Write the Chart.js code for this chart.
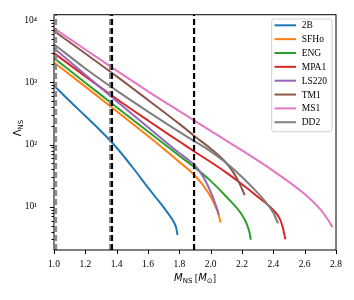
<!DOCTYPE html>
<html>
<head>
<meta charset="utf-8">
<script src="https://cdn.jsdelivr.net/npm/chart.js"></script>
<style>
  html, body { margin: 0; padding: 0; background: #fff; }
  #wrap { width: 354px; height: 300px; }
</style>
</head>
<body>
<div id="wrap"><canvas id="chart" width="354" height="300"></canvas></div>
<script>
// EOS 이름과 색
const eosNames = ['2B', 'SFHo', 'ENG', 'MPA1', 'LS220', 'TM1', 'MS1', 'DD2'];
const eosColors = ['#1f77b4', '#ff7f0e', '#2ca02c', '#d62728', '#9467bd', '#8c564b', '#e377c2', '#7f7f7f'];

// M_NS [M_sun] / Lambda_NS
const mass2B = [1.0, 1.1, 1.2, 1.3, 1.4, 1.5, 1.6, 1.65, 1.7, 1.74, 1.77, 1.782, 1.788];
const lambda2B = [885, 501, 288, 164, 89, 43.6, 20.4, 14.1, 9.8, 7.1, 5.37, 4.37, 3.52];

const massSFHo = [1.0, 1.2, 1.4, 1.6, 1.8, 1.9, 1.95, 2.0, 2.03, 2.05, 2.063];
const lambdaSFHo = [2090, 853, 344, 137, 52.5, 31.6, 22.4, 14.5, 10.2, 7.6, 5.6];

const massENG = [1.0, 1.2, 1.4, 1.6, 1.8, 1.9, 2.0, 2.1, 2.2, 2.23, 2.25, 2.256];
const lambdaENG = [2450, 988, 398, 162, 66, 42.6, 26.1, 14.5, 7.4, 5.3, 3.65, 2.95];

const massMPA1 = [1.0, 1.2, 1.4, 1.6, 1.8, 1.9, 2.0, 2.1, 2.2, 2.3, 2.4, 2.44, 2.46, 2.477];
const lambdaMPA1 = [2950, 1250, 541, 244, 112, 76, 52.5, 35.4, 23, 14.5, 8.85, 6.5, 4.7, 3.0];

const massLS220 = [1.0, 1.2, 1.4, 1.6, 1.8, 1.85, 1.9, 1.95, 1.98, 2.01, 2.03, 2.045, 2.052];
const lambdaLS220 = [3540, 1330, 497, 190, 73, 58.9, 46.2, 30.9, 22.4, 15.1, 11.1, 8.6, 7.4];

const massTM1 = [1.0, 1.2, 1.4, 1.6, 1.8, 1.9, 2.0, 2.1, 2.15, 2.19, 2.217];
const lambdaTM1 = [6710, 2910, 1250, 522, 215, 135, 86, 50.6, 34.1, 22.2, 15.4];

const massMS1 = [1.0, 1.2, 1.4, 1.6, 1.8, 2.0, 2.2, 2.4, 2.6, 2.7, 2.75, 2.778];
const lambdaMS1 = [7400, 3370, 1540, 718, 344, 166, 80.6, 37.7, 16, 9.06, 6.12, 4.67];

const massDD2 = [1.0, 1.2, 1.4, 1.6, 1.8, 1.9, 2.0, 2.1, 2.2, 2.3, 2.35, 2.4, 2.43];
const lambdaDD2 = [4110, 1675, 736, 339, 160, 112, 77.7, 50.6, 30.2, 16.75, 12, 8.0, 5.4];

// 세로 점선 위치
const vlineGray = [1.013, 1.358];
const vlineBlack = [1.37, 1.894];

// 축 범위 / 눈금
const xMin = 1.0, xMax = 2.8, xStep = 0.2;
const yMin = 2.02, yMax = 12240;
const supDigits = ['\u2070', '\u00b9', '\u00b2', '\u00b3', '\u2074'];

const massSets = [mass2B, massSFHo, massENG, massMPA1, massLS220, massTM1, massMS1, massDD2];
const lambdaSets = [lambda2B, lambdaSFHo, lambdaENG, lambdaMPA1, lambdaLS220, lambdaTM1, lambdaMS1, lambdaDD2];

const serif = '"Liberation Serif", "Times New Roman", serif';
const sans = '"DejaVu Sans", sans-serif';

const datasets = eosNames.map((name, i) => ({
    label: name,
    data: massSets[i].map((m, j) => ({ x: m, y: lambdaSets[i][j] })),
    borderColor: eosColors[i],
    backgroundColor: eosColors[i],
    borderWidth: 2,
    pointRadius: 0,
    showLine: true,
    cubicInterpolationMode: 'monotone',
    order: eosNames.length - i
}));

function drawParts(ctx, parts, x, y) {
    parts.forEach(p => {
        ctx.font = p.font;
        ctx.fillText(p.t, x, y + (p.dy || 0));
        x += ctx.measureText(p.t).width;
    });
}
function partsWidth(ctx, parts) {
    return parts.reduce((w, p) => { ctx.font = p.font; return w + ctx.measureText(p.t).width; }, 0);
}

const extras = {
    id: 'extras',
    afterDatasetsDraw(chart) {
        const { ctx, chartArea: a, scales: { x } } = chart;
        ctx.save();
        ctx.beginPath();
        ctx.rect(a.left, a.top, a.right - a.left, a.bottom - a.top);
        ctx.clip();
        ctx.lineWidth = 2.2;
        ctx.setLineDash([6, 3]);
        const vline = (m, color) => {
            const px = x.getPixelForValue(m);
            ctx.strokeStyle = color;
            ctx.beginPath();
            ctx.moveTo(px, a.bottom);
            ctx.lineTo(px, a.top);
            ctx.stroke();
        };
        vlineGray.forEach(m => vline(m, '#8a8a8a'));
        vlineBlack.forEach(m => vline(m, '#000'));
        ctx.restore();
    },
    afterDraw(chart) {
        const { ctx, chartArea: a, scales: { x, y } } = chart;
        ctx.save();
        // 테두리
        ctx.strokeStyle = '#000';
        ctx.lineWidth = 1;
        ctx.strokeRect(a.left, a.top, a.right - a.left, a.bottom - a.top);

        // x 눈금
        ctx.beginPath();
        for (let v = xMin; v <= xMax + 1e-9; v += xStep) {
            const px = Math.round(x.getPixelForValue(v)) + 0.5;
            ctx.moveTo(px, a.bottom);
            ctx.lineTo(px, a.bottom + 4);
        }
        // y 눈금 (주/보조)
        for (let k = 0; k <= 4; k++) {
            for (let s = 1; s <= 9; s++) {
                const v = s * Math.pow(10, k);
                if (v < yMin || v > yMax) continue;
                const py = Math.round(y.getPixelForValue(v)) + 0.5;
                ctx.moveTo(a.left, py);
                ctx.lineTo(a.left - (s === 1 ? 4 : 2.5), py);
            }
        }
        ctx.stroke();

        // 축 제목
        ctx.fillStyle = '#000';
        ctx.textBaseline = 'alphabetic';
        const xParts = [
            { t: 'M', font: 'italic 10px ' + sans },
            { t: 'NS', font: '7px ' + sans, dy: 2 },
            { t: ' [', font: '10px ' + serif },
            { t: 'M', font: 'italic 10px ' + sans },
            { t: '\u2299', font: '7px ' + sans, dy: 2 },
            { t: ']', font: '10px ' + serif }
        ];
        const cx = (a.left + a.right) / 2;
        drawParts(ctx, xParts, cx - partsWidth(ctx, xParts) / 2, 281);

        const yParts = [
            { t: '\u039b', font: '10px ' + sans },
            { t: 'NS', font: '7px ' + sans, dy: 2 }
        ];
        ctx.translate(21, 128);
        ctx.rotate(-Math.PI / 2);
        drawParts(ctx, yParts, -partsWidth(ctx, yParts) / 2, 0);
        ctx.setTransform(1, 0, 0, 1, 0, 0);

        // 범례
        const bx = 271.7, by = 19, bw = 60.3, bh = 112.7, r = 2.5;
        ctx.beginPath();
        ctx.roundRect(bx, by, bw, bh, r);
        ctx.fillStyle = 'rgba(255,255,255,0.8)';
        ctx.fill();
        ctx.strokeStyle = '#d0d0d0';
        ctx.lineWidth = 1;
        ctx.stroke();
        ctx.font = '9.5px ' + serif;
        ctx.textBaseline = 'middle';
        chart.data.datasets.forEach((ds, i) => {
            const ry = 25.3 + i * 13.85;
            ctx.strokeStyle = ds.borderColor;
            ctx.lineWidth = 2;
            ctx.beginPath();
            ctx.moveTo(274.5, ry);
            ctx.lineTo(296, ry);
            ctx.stroke();
            ctx.fillStyle = '#000';
            ctx.fillText(ds.label, 301.7, ry + 0.5);
        });
        ctx.restore();
    }
};

new Chart(document.getElementById('chart'), {
    type: 'scatter',
    data: { datasets },
    options: {
        responsive: false,
        animation: false,
        devicePixelRatio: 1,
        layout: { padding: { left: 0, right: 18, top: 14, bottom: 0 } },
        plugins: { legend: { display: false }, tooltip: { enabled: false } },
        scales: {
            x: {
                type: 'linear',
                min: xMin,
                max: xMax,
                grid: { display: false },
                border: { display: false },
                ticks: {
                    stepSize: xStep,
                    padding: 1,
                    color: '#000',
                    font: { family: serif, size: 9.5 },
                    callback: v => Number(v).toFixed(1)
                },
                afterFit: s => { s.height = 50; }
            },
            y: {
                type: 'logarithmic',
                min: yMin,
                max: yMax,
                grid: { display: false },
                border: { display: false },
                ticks: {
                    autoSkip: false,
                    padding: 9,
                    color: '#000',
                    font: { family: serif, size: 9.5 },
                    callback: v => {
                        const k = Math.round(Math.log10(v));
                        return Math.abs(Math.log10(v) - k) < 1e-9 ? '10' + supDigits[k] : '';
                    }
                },
                afterFit: s => { s.width = 54; }
            }
        }
    },
    plugins: [extras]
});
</script>
</body>
</html>
